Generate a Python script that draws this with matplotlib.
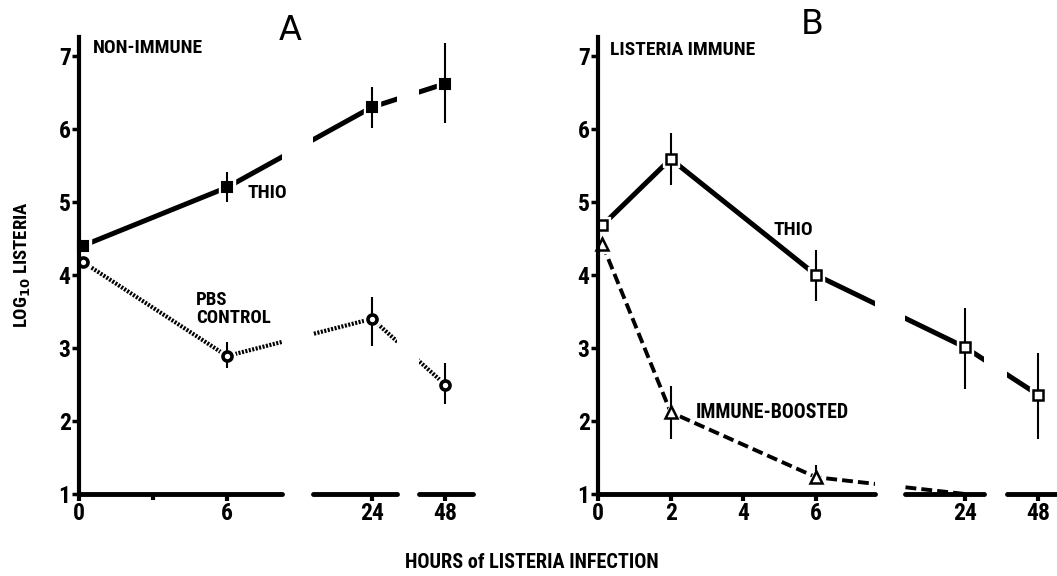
import os
import numpy as np
import matplotlib
matplotlib.use('Agg')
import matplotlib.pyplot as plt
from matplotlib import font_manager

# hours after infection, log10 listeria (mean, low, high of the bars)
a_hours = [0.15, 6, 24, 48]
a_thio = [4.40, 5.20, 6.30, 6.62]
a_thio_lo = [4.40, 5.00, 6.01, 6.08]
a_thio_hi = [4.40, 5.41, 6.58, 7.18]
a_pbs = [4.18, 2.89, 3.40, 2.50]
a_pbs_lo = [4.18, 2.73, 3.03, 2.23]
a_pbs_hi = [4.18, 3.08, 3.70, 2.79]

b_hours = [0.12, 2, 6, 24, 48]
b_thio = [4.68, 5.59, 4.00, 3.01, 2.36]
b_thio_lo = [4.68, 5.23, 3.64, 2.44, 1.75]
b_thio_hi = [4.68, 5.95, 4.34, 3.55, 2.93]
b_boost_hours = [0.12, 2, 6, 24]
b_boost = [4.42, 2.12, 1.23, 1.00]
b_boost_lo = [4.42, 1.75, 1.15, 1.00]
b_boost_hi = [4.42, 2.48, 1.40, 1.00]

a_ticks = [0, 6, 24, 48]
b_ticks = [0, 2, 4, 6, 24, 48]
y_ticks = [1, 2, 3, 4, 5, 6, 7]

W, H = 1057, 576

# look for a bold condensed face, the scan uses one
prefs = ['robotocondensed-bold.', 'opensans_condensed-extrabold', 'opensans_condensed-bold.',
         'opensanscondensed-bold', 'liberationsansnarrow-bold.', 'dejavusanscondensed-bold.']
files = [f.fname for f in font_manager.fontManager.ttflist]
found = None
for p in prefs:
    for fn in files:
        if p in os.path.basename(fn).lower():
            found = fn
            break
    if found:
        break
if found:
    FP = font_manager.FontProperties(fname=found)
else:
    FP = font_manager.FontProperties(family='DejaVu Sans', weight='bold', stretch='condensed')

plt.rcParams['mathtext.fontset'] = 'custom'
plt.rcParams['mathtext.rm'] = FP.get_name() + ':bold'
plt.rcParams['mathtext.bf'] = FP.get_name() + ':bold'
plt.rcParams['mathtext.default'] = 'bf'


def fp(size):
    f = FP.copy()
    f.set_size(size)
    return f


fig = plt.figure(figsize=(W / 100, H / 100), dpi=100)

Y_BOT = 494
Y_TOP = 37


def fx(px):
    return px / W


def fy(py):
    return 1 - py / H


def make_panel(px0, hk, pk, segs, xticks, minor=None):
    fwd = lambda h: np.interp(h, hk, pk)
    inv = lambda p: np.interp(p, pk, hk)
    axes = []
    for i, (lo, hi) in enumerate(segs):
        ax = fig.add_axes([fx(lo), fy(Y_BOT), (hi - lo) / W, (Y_BOT - Y_TOP) / H])
        ax.set_xscale('function', functions=(fwd, inv))
        ax.set_xlim(inv(lo - px0), inv(hi - px0))
        ax.set_ylim(1, 1 + (Y_BOT - Y_TOP) / 73.0)
        ax.patch.set_visible(False)
        for s in ['top', 'right']:
            ax.spines[s].set_visible(False)
        ax.spines['bottom'].set_linewidth(3.5)
        ax.spines['bottom'].set_capstyle('round')
        ax.spines['bottom'].set_zorder(10)
        lo_h, hi_h = ax.get_xlim()
        ax.set_xticks([t for t in xticks if lo_h <= t <= hi_h])
        ax.tick_params(axis='x', direction='out', length=5, width=3, pad=1)
        if i == 0:
            ax.spines['left'].set_position(('data', 0))
            ax.spines['left'].set_linewidth(3)
            ax.spines['left'].set_zorder(10)
            ax.spines['bottom'].set_bounds(0, hi_h)
            ax.set_yticks(y_ticks)
            ax.tick_params(axis='y', direction='out', length=5, width=2.5, pad=1)
            if minor:
                ax.set_xticks(minor, minor=True)
                ax.tick_params(axis='x', which='minor', direction='out', length=4, width=3)
        else:
            ax.spines['left'].set_visible(False)
            ax.tick_params(axis='y', left=False, labelleft=False)
        for lab in ax.get_xticklabels() + ax.get_yticklabels():
            lab.set_fontproperties(fp(17))
        axes.append(ax)
    return axes


def draw_series(ax, x, y, lo, hi, ls, lw, marker, ms, mfc, mew, nmark=None):
    x = np.array(x); y = np.array(y)
    n = len(x) if nmark is None else nmark
    ax.plot(x, y, color='k', lw=lw, ls=ls, solid_capstyle='butt', dash_capstyle='butt', zorder=2)
    ax.plot(x[:n], y[:n], ls='none', marker=marker, ms=ms + 5, mfc='w', mec='w', zorder=3)
    yerr = [y[:n] - np.array(lo[:n]), np.array(hi[:n]) - y[:n]]
    ax.errorbar(x[:n], y[:n], yerr=yerr, fmt='none', ecolor='k', elinewidth=1.5, capsize=0, zorder=4)
    ax.plot(x[:n], y[:n], ls='none', marker=marker, ms=ms, mfc=mfc, mec='k', mew=mew, zorder=5)


hk = [-10, 0, 6, 24, 48, 100]

# panel A
axA = make_panel(79, hk, [-247, 0, 148, 293, 366, 524],
                 [(72, 282), (313, 397), (419, 473)], a_ticks, minor=[3])
for ax in axA:
    draw_series(ax, a_hours, a_thio, a_thio_lo, a_thio_hi, '-', 3.6, 's', 6.5, 'k', 1.5)
    draw_series(ax, a_hours, a_pbs, a_pbs_lo, a_pbs_hi, (0, (0.5, 0.35)), 3.0, 'o', 6.5, 'w', 2.6)

# panel B
axB = make_panel(598, hk, [-364, 0, 218, 367, 440, 598],
                 [(591, 875), (905, 984), (1007, 1056)], b_ticks)
for ax in axB:
    draw_series(ax, b_hours, b_thio, b_thio_lo, b_thio_hi, '-', 3.6, 's', 7, 'w', 1.8)
    draw_series(ax, b_boost_hours, b_boost, b_boost_lo, b_boost_hi, (0, (2.8, 1.3)), 2.8,
                '^', 8, 'w', 1.8, nmark=3)

# texts
fig.text(fx(290), fy(30), 'A', fontsize=24, family='DejaVu Sans', ha='center', va='center')
fig.text(fx(812), fy(24), 'B', fontsize=24, family='DejaVu Sans', ha='center', va='center')
fig.text(fx(93), fy(48), 'NON-IMMUNE', fontproperties=fp(14), ha='left', va='center')
fig.text(fx(247), fy(193), 'THIO', fontproperties=fp(14), ha='left', va='center')
fig.text(fx(196), fy(291), 'PBS\nCONTROL', fontproperties=fp(13.5), ha='left', va='top', linespacing=1.0)
fig.text(fx(610), fy(50), 'LISTERIA IMMUNE', fontproperties=fp(14), ha='left', va='center')
fig.text(fx(773), fy(230), 'THIO', fontproperties=fp(14), ha='left', va='center')
fig.text(fx(696), fy(412), 'IMMUNE-BOOSTED', fontproperties=fp(14.3), ha='left', va='center')
fig.text(fx(532), fy(563), 'HOURS of LISTERIA INFECTION', fontproperties=fp(14.6), ha='center', va='center')
fig.text(fx(23), fy(265), r'LOG$_{\mathbf{10}}$ LISTERIA', fontproperties=fp(13.5), rotation=90,
         ha='center', va='center')

fig.savefig('out.png', dpi=100)
